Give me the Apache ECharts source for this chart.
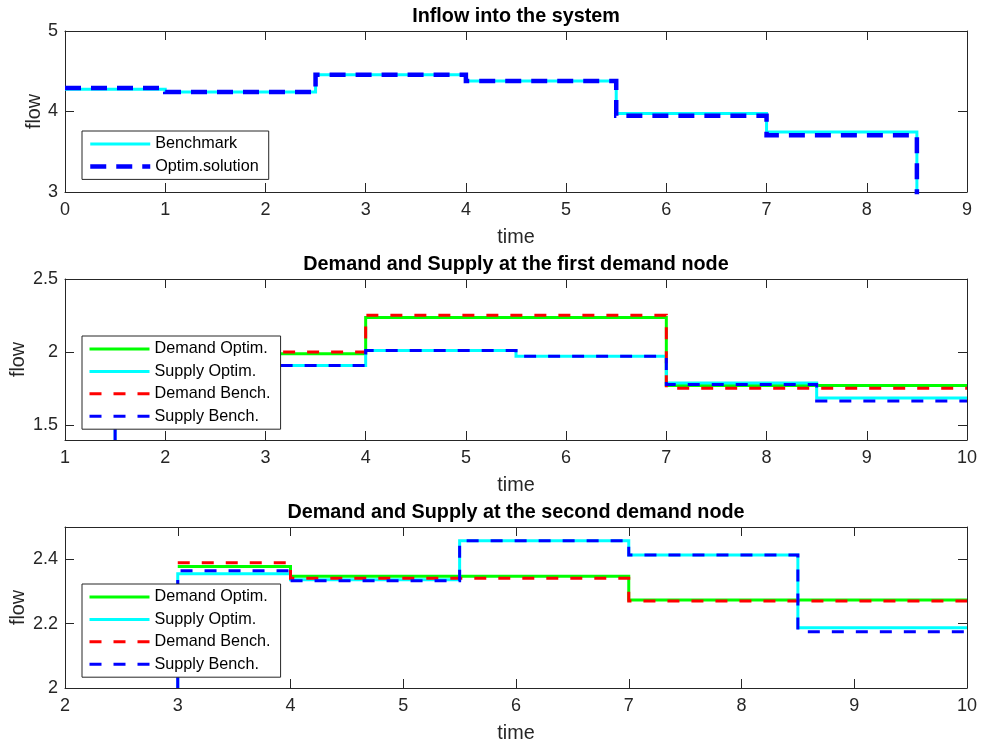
<!DOCTYPE html>
<html>
<head>
<meta charset="utf-8">
<script src="https://cdn.jsdelivr.net/npm/echarts@6/dist/echarts.min.js"></script>
<style>
html,body{margin:0;padding:0;background:#fff;}
#chart{width:981px;height:746px;}
</style>
</head>
<body>
<div id="chart"></div>
<script>
// ---------- Data ----------
// Panel 1: Inflow into the system (step breakpoints and segment values)
const p1X = [0, 1, 2.5, 4, 5.5, 7, 8.5, 8.5];
const p1Benchmark = [4.275, 4.242, 4.458, 4.379, 3.975, 3.746, 0];
const p1Optim = [4.292, 4.242, 4.458, 4.379, 3.946, 3.704, 0];

// Panel 2: first demand node
const p2DemandX = [1.5, 4, 7, 8.5, 10];
const p2DemandOptim = [1.989, 2.237, 1.772, 1.772];
const p2DemandBench = [2.002, 2.253, 1.753, 1.753];
const p2SupplyX = [1.5, 1.5, 4, 5.5, 7, 8.5, 10];
const p2SupplyOptim = [1.4, 1.909, 2.011, 1.973, 1.790, 1.687];
const p2SupplyBench = [1.4, 1.909, 2.011, 1.973, 1.779, 1.667];

// Panel 3: second demand node
const p3DemandX = [3, 4, 7, 10];
const p3DemandOptim = [2.377, 2.347, 2.273];
const p3DemandBench = [2.389, 2.341, 2.270];
const p3SupplyX = [3, 3, 4, 5.5, 7, 8.5, 10];
const p3SupplyOptim = [2.0, 2.355, 2.336, 2.457, 2.413, 2.187];
const p3SupplyBench = [2.0, 2.364, 2.333, 2.457, 2.413, 2.175];

// Axis tick values
const p1XTicks = [0, 1, 2, 3, 4, 5, 6, 7, 8, 9];
const p1YTicks = [3, 4, 5];
const p2XTicks = [1, 2, 3, 4, 5, 6, 7, 8, 9, 10];
const p2YTicks = [1.5, 2, 2.5];
const p3XTicks = [2, 3, 4, 5, 6, 7, 8, 9, 10];
const p3YTicks = [2, 2.2, 2.4];

const titles = ['Inflow into the system', 'Demand and Supply at the first demand node', 'Demand and Supply at the second demand node'];

// ---------- Helpers ----------
function stairs(xs, vs) {
  const pts = [];
  for (let i = 0; i < vs.length; i++) {
    pts.push([xs[i], vs[i]]);
    pts.push([xs[i + 1], vs[i]]);
  }
  return pts;
}

const FONT = "'Liberation Sans', Arial, Helvetica, sans-serif";
const AX = '#262626';
const gridTops = [31, 279, 527];
const gridH = 161;
const ranges = [
  {x: [0, 9], y: [3, 5], xt: p1XTicks, yt: p1YTicks, yGap: 20},
  {x: [1, 10], y: [1.4, 2.5], xt: p2XTicks, yt: p2YTicks, yGap: 36},
  {x: [2, 10], y: [2, 2.5], xt: p3XTicks, yt: p3YTicks, yGap: 36}
];

const grid = [], xAxis = [], yAxis = [], title = [], legend = [];
ranges.forEach((r, i) => {
  grid.push({left: 65, right: 14, top: gridTops[i], height: gridH, containLabel: false, outerBoundsMode: 'none'});
  const lineStyle = {color: AX, width: 1};
  xAxis.push({
    type: 'value', gridIndex: i, min: r.x[0], max: r.x[1], position: 'bottom',
    axisLine: {show: true, onZero: false, lineStyle},
    axisTick: {show: true, inside: true, length: 9, lineStyle, customValues: r.xt},
    axisLabel: {show: true, customValues: r.xt, fontSize: 18, color: AX, fontFamily: FONT, margin: 9},
    splitLine: {show: false},
    name: 'time', nameLocation: 'middle', nameGap: 36, nameMoveOverlap: false,
    nameTextStyle: {fontSize: 19.8, color: AX, fontFamily: FONT}
  });
  xAxis.push({
    type: 'value', gridIndex: i, min: r.x[0], max: r.x[1], position: 'top',
    axisLine: {show: true, onZero: false, lineStyle},
    axisTick: {show: true, inside: true, length: 9, lineStyle, customValues: r.xt},
    axisLabel: {show: false}, splitLine: {show: false}
  });
  yAxis.push({
    type: 'value', gridIndex: i, min: r.y[0], max: r.y[1], position: 'left',
    axisLine: {show: true, onZero: false, lineStyle},
    axisTick: {show: true, inside: true, length: 9, lineStyle, customValues: r.yt},
    axisLabel: {show: true, customValues: r.yt, fontSize: 18, color: AX, fontFamily: FONT, margin: 7},
    splitLine: {show: false},
    name: 'flow', nameLocation: 'middle', nameGap: r.yGap, nameMoveOverlap: false,
    nameTextStyle: {fontSize: 19.8, color: AX, fontFamily: FONT}
  });
  yAxis.push({
    type: 'value', gridIndex: i, min: r.y[0], max: r.y[1], position: 'right',
    axisLine: {show: true, onZero: false, lineStyle},
    axisTick: {show: true, inside: true, length: 9, lineStyle, customValues: r.yt},
    axisLabel: {show: false}, splitLine: {show: false}
  });
  title.push({
    text: titles[i], left: 516, top: gridTops[i] - 24, textAlign: 'center', padding: 0,
    textStyle: {fontSize: 19.8, fontWeight: 'bold', color: '#000', fontFamily: FONT}
  });
});

const DASH1 = [16, 10];
const DASH = [12, 12];

function line(name, data, gi, color, width, dash) {
  return {
    name, type: 'line', data: stairs(data[0], data[1]),
    xAxisIndex: gi * 2, yAxisIndex: gi * 2,
    symbol: 'none', showSymbol: false, animation: false, clip: true,
    lineStyle: {color, width, type: dash || 'solid', cap: 'butt', join: 'miter'},
    itemStyle: {color}, emphasis: {disabled: true}
  };
}

const series = [
  line('Benchmark', [p1X, p1Benchmark], 0, '#00FFFF', 3),
  line('Optim.solution', [p1X, p1Optim], 0, '#0000FF', 4.5, DASH1),
  line('Demand Optim.', [p2DemandX, p2DemandOptim], 1, '#00FF00', 3),
  line('Supply Optim.', [p2SupplyX, p2SupplyOptim], 1, '#00FFFF', 3),
  line('Demand Bench.', [p2DemandX, p2DemandBench], 1, '#FF0000', 3, DASH),
  line('Supply Bench.', [p2SupplyX, p2SupplyBench], 1, '#0000FF', 3, DASH),
  line('Demand Optim.', [p3DemandX, p3DemandOptim], 2, '#00FF00', 3),
  line('Supply Optim.', [p3SupplyX, p3SupplyOptim], 2, '#00FFFF', 3),
  line('Demand Bench.', [p3DemandX, p3DemandBench], 2, '#FF0000', 3, DASH),
  line('Supply Bench.', [p3SupplyX, p3SupplyBench], 2, '#0000FF', 3, DASH)
];

const legendBase = {
  orient: 'vertical', left: 82, itemWidth: 60, itemHeight: 14, itemGap: 4.4,
  padding: [4, 10, 4, 6], backgroundColor: '#fff', borderColor: AX, borderWidth: 1,
  borderRadius: 0, selectedMode: false, z: 10,
  itemStyle: {color: 'rgba(0,0,0,0)', borderColor: 'rgba(0,0,0,0)', borderWidth: 0, opacity: 0},
  textStyle: {fontSize: 16.2, color: '#000', fontFamily: FONT, lineHeight: 18}
};
function li(name, color, width, dash) {
  return {name, lineStyle: {color, width, type: dash || 'solid', opacity: 1, cap: 'butt'}};
}
const nodeLegend = [
  li('Demand Optim.', '#00FF00', 3),
  li('Supply Optim.', '#00FFFF', 3),
  li('Demand Bench.', '#FF0000', 3, DASH),
  li('Supply Bench.', '#0000FF', 3, DASH)
];
legend.push(Object.assign({}, legendBase, {top: 131, data: [li('Benchmark', '#00FFFF', 3), li('Optim.solution', '#0000FF', 4.5, DASH1)]}));
legend.push(Object.assign({}, legendBase, {top: 336, data: nodeLegend}));
legend.push(Object.assign({}, legendBase, {top: 584, data: nodeLegend}));

const chart = echarts.init(document.getElementById('chart'), null, {renderer: 'canvas'});
chart.setOption({animation: false, backgroundColor: '#fff', title, grid, xAxis, yAxis, legend, series});
</script>
</body>
</html>
